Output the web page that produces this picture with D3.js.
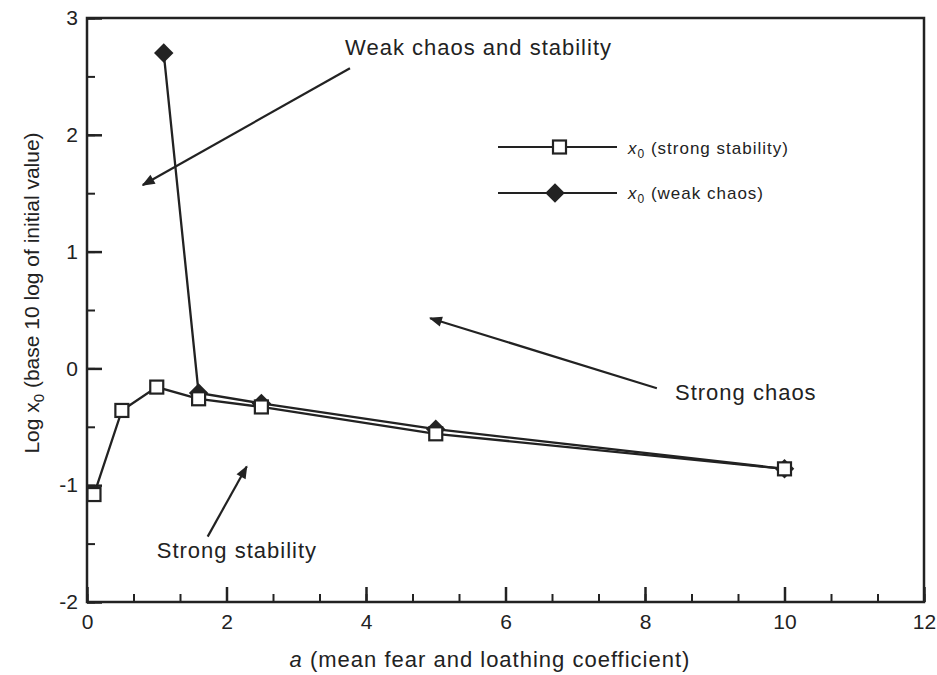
<!DOCTYPE html>
<html>
<head>
<meta charset="utf-8">
<script src="https://cdn.jsdelivr.net/npm/d3@7"></script>
<style>
  body { margin: 0; background: #fff; }
  text { font-family: "Liberation Sans", Arial, sans-serif; fill: #222; }
</style>
</head>
<body>
<div id="chart"></div>
<script>
// data
var aStrong = [0.1, 0.5, 1.0, 1.6, 2.5, 5, 10];
var logStrong = [-1.08, -0.36, -0.16, -0.26, -0.33, -0.56, -0.86];
var aWeak = [1.1, 1.6, 2.5, 5, 10];
var logWeak = [2.7, -0.21, -0.3, -0.52, -0.86];
var xTicks = [0, 2, 4, 6, 8, 10, 12];
var yTicks = [-2, -1, 0, 1, 2, 3];

var width = 937, height = 675;
var margin = {top: 18, right: 13, bottom: 73, left: 87};

var svg = d3.select("#chart").append("svg")
    .attr("width", width)
    .attr("height", height);

var x = d3.scaleLinear().domain([0, 12]).range([margin.left, width - margin.right]);
var y = d3.scaleLinear().domain([-2, 3]).range([height - margin.bottom, margin.top]);

// frame
svg.append("rect")
    .attr("x", x(0)).attr("y", y(3))
    .attr("width", x(12) - x(0)).attr("height", y(-2) - y(3))
    .attr("fill", "none").attr("stroke", "#222").attr("stroke-width", 2.5);

// x axis (ticks inward)
var xMinor = d3.range(0, 12.01, 2 / 3);
svg.append("g")
    .attr("transform", "translate(0," + y(-2) + ")")
    .call(d3.axisBottom(x).tickValues(xMinor).tickSize(-8).tickFormat(""))
    .call(g => g.select(".domain").remove())
    .call(g => g.selectAll("line").attr("stroke", "#222").attr("stroke-width", 2));
svg.append("g")
    .attr("transform", "translate(0," + y(-2) + ")")
    .call(d3.axisBottom(x).tickValues(xTicks).tickSize(-15).tickPadding(12).tickFormat(d => String(d)))
    .call(g => g.select(".domain").remove())
    .call(g => g.selectAll("line").attr("stroke", "#222").attr("stroke-width", 2.5))
    .call(g => g.selectAll("text").attr("font-size", 21).attr("fill", "#222"));

// y axis
var yMinor = d3.range(-2, 3.01, 0.5);
svg.append("g")
    .attr("transform", "translate(" + x(0) + ",0)")
    .call(d3.axisLeft(y).tickValues(yMinor).tickSize(-8).tickFormat(""))
    .call(g => g.select(".domain").remove())
    .call(g => g.selectAll("line").attr("stroke", "#222").attr("stroke-width", 2));
svg.append("g")
    .attr("transform", "translate(" + x(0) + ",0)")
    .call(d3.axisLeft(y).tickValues(yTicks).tickSize(-15).tickPadding(9).tickFormat(d => String(d)))
    .call(g => g.select(".domain").remove())
    .call(g => g.selectAll("line").attr("stroke", "#222").attr("stroke-width", 2.5))
    .call(g => g.selectAll("text").attr("font-size", 21).attr("fill", "#222"));

// axis titles
var xt = svg.append("text")
    .attr("x", 490).attr("y", 667)
    .attr("text-anchor", "middle")
    .attr("font-size", 22)
    .attr("letter-spacing", 1);
xt.append("tspan").attr("font-style", "italic").text("a");
xt.append("tspan").text(" (mean fear and loathing coefficient)");

var yt = svg.append("text")
    .attr("transform", "translate(39,293) rotate(-90)")
    .attr("text-anchor", "middle")
    .attr("font-size", 21);
yt.append("tspan").text("Log x");
yt.append("tspan").attr("font-size", 15).attr("dy", 5).text("0");
yt.append("tspan").attr("dy", -5).text(" (base 10 log of initial value)");

// lines
var line = d3.line().x(d => x(d[0])).y(d => y(d[1]));
var strong = aStrong.map((a, i) => [a, logStrong[i]]);
var weak = aWeak.map((a, i) => [a, logWeak[i]]);

svg.append("path").datum(weak).attr("d", line)
    .attr("fill", "none").attr("stroke", "#222").attr("stroke-width", 2.3);
svg.append("path").datum(strong).attr("d", line)
    .attr("fill", "none").attr("stroke", "#222").attr("stroke-width", 2.3);

var diamond = d3.symbol().type(d3.symbolSquare).size(190);
svg.selectAll(".dia").data(weak).enter().append("path")
    .attr("class", "dia")
    .attr("d", diamond)
    .attr("transform", d => "translate(" + x(d[0]) + "," + y(d[1]) + ") rotate(45)")
    .attr("fill", "#222");

svg.selectAll(".sq").data(strong).enter().append("rect")
    .attr("class", "sq")
    .attr("x", d => x(d[0]) - 6.5).attr("y", d => y(d[1]) - 6.5)
    .attr("width", 13).attr("height", 13)
    .attr("fill", "#fff").attr("stroke", "#222").attr("stroke-width", 2.2);

// legend
var lg = svg.append("g");
lg.append("line").attr("x1", 498).attr("x2", 617).attr("y1", 147).attr("y2", 147)
    .attr("stroke", "#222").attr("stroke-width", 1.8);
lg.append("rect").attr("x", 553).attr("y", 140.5).attr("width", 13).attr("height", 13)
    .attr("fill", "#fff").attr("stroke", "#222").attr("stroke-width", 2.2);
lg.append("line").attr("x1", 498).attr("x2", 617).attr("y1", 193).attr("y2", 193)
    .attr("stroke", "#222").attr("stroke-width", 1.8);
lg.append("path").attr("d", diamond).attr("transform", "translate(555,193) rotate(45)")
    .attr("fill", "#222");
[["(strong stability)", 154], ["(weak chaos)", 199]].forEach(function(l) {
  var t = lg.append("text").attr("x", 628).attr("y", l[1]).attr("font-size", 17)
      .attr("letter-spacing", 1);
  t.append("tspan").attr("font-style", "italic").text("x");
  t.append("tspan").attr("font-size", 12).attr("dy", 4).text("0");
  t.append("tspan").attr("dy", -4).text(" " + l[0]);
});

// annotations with arrows
svg.append("defs").append("marker")
    .attr("id", "arr").attr("viewBox", "0 0 10 10")
    .attr("refX", 9).attr("refY", 5)
    .attr("markerWidth", 15).attr("markerHeight", 13)
    .attr("markerUnits", "userSpaceOnUse")
    .attr("orient", "auto")
  .append("path").attr("d", "M0,1 L10,5 L0,9 Z").attr("fill", "#222");

var notes = [
  {text: "Weak chaos and stability", tx: 3.7, ty: 2.68, from: [3.77, 2.57], to: [0.8, 1.57]},
  {text: "Strong chaos", tx: 8.43, ty: -0.27, from: [8.17, -0.17], to: [4.92, 0.43]},
  {text: "Strong stability", tx: 1.0, ty: -1.62, from: [1.73, -1.44], to: [2.29, -0.84]}
];
notes.forEach(function(n) {
  svg.append("line")
      .attr("x1", x(n.from[0])).attr("y1", y(n.from[1]))
      .attr("x2", x(n.to[0])).attr("y2", y(n.to[1]))
      .attr("stroke", "#222").attr("stroke-width", 2.2)
      .attr("marker-end", "url(#arr)");
  svg.append("text").attr("x", x(n.tx)).attr("y", y(n.ty))
      .attr("font-size", 22).attr("letter-spacing", 1).text(n.text);
});
</script>
</body>
</html>
